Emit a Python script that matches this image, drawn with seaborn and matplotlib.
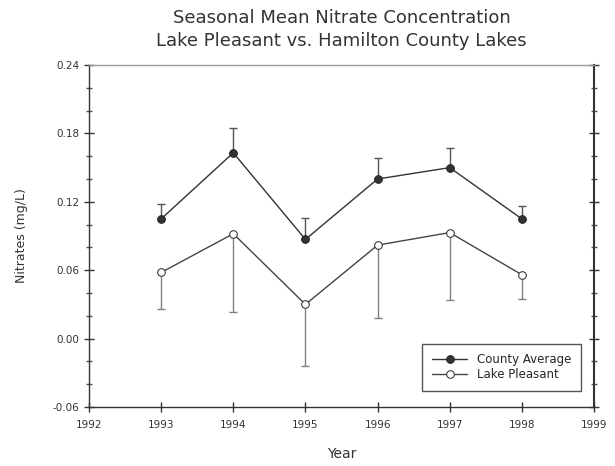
import numpy as np
import pandas as pd
import matplotlib
matplotlib.use("Agg")
import matplotlib.pyplot as plt
import seaborn as sns
from matplotlib.ticker import MultipleLocator

years = [1993, 1994, 1995, 1996, 1997, 1998]
county_mean = [0.105, 0.163, 0.087, 0.140, 0.150, 0.105]
county_upper = [0.118, 0.185, 0.106, 0.158, 0.167, 0.116]
lake_mean = [0.058, 0.092, 0.030, 0.082, 0.093, 0.056]
lake_lower = [0.026, 0.023, -0.024, 0.018, 0.034, 0.035]

sns.set_style("white")
plt.rcParams['font.family'] = ['DejaVu Sans']

df = pd.DataFrame({
    'Year': years * 2,
    'Nitrate': county_mean + lake_mean,
    'Series': ['County Average'] * 6 + ['Lake Pleasant'] * 6,
})

fig = plt.figure(figsize=(6.15, 4.66), dpi=100)
ax = fig.add_axes([0.1447, 0.1266, 0.8212, 0.7339])

# one-sided error bars: county up, lake down
county_err = np.array(county_upper) - np.array(county_mean)
lake_err = np.array(lake_mean) - np.array(lake_lower)
ax.errorbar(years, county_mean, yerr=[np.zeros(6), county_err], fmt='none',
            ecolor='#555555', elinewidth=1, capsize=3, capthick=1, zorder=1)
ax.errorbar(years, lake_mean, yerr=[lake_err, np.zeros(6)], fmt='none',
            ecolor='#808080', elinewidth=1, capsize=3, capthick=1, zorder=1)

sns.lineplot(data=df, x='Year', y='Nitrate', hue='Series', style='Series',
             palette={'County Average': '#333333', 'Lake Pleasant': '#444444'},
             markers={'County Average': 'o', 'Lake Pleasant': 'o'},
             dashes=False, linewidth=1, ax=ax, zorder=3, legend=False)

ax.lines[-2].set_markerfacecolor('#333333')
ax.lines[-2].set_markeredgecolor('#222222')
ax.lines[-2].set_markersize(5.5)
ax.lines[-1].set_markerfacecolor('white')
ax.lines[-1].set_markeredgecolor('#333333')
ax.lines[-1].set_markersize(5.5)

ax.set_xlim(1992, 1999)
ax.set_ylim(-0.06, 0.24)
ax.set_xticks(range(1992, 2000))
ax.set_yticks(np.arange(-0.06, 0.2401, 0.06))
ax.yaxis.set_minor_locator(MultipleLocator(0.02))
ax.set_yticklabels(['-0.06', '0.00', '0.06', '0.12', '0.18', '0.24'])
ax.tick_params(axis='both', which='major', direction='inout', length=7,
               width=1, labelsize=7.5, color='#333333', labelcolor='#333333')
ax.tick_params(axis='y', which='minor', direction='inout', length=5, width=1,
               color='#555555')
ax.tick_params(axis='y', which='both', left=True, right=True)
ax.tick_params(axis='x', which='major', bottom=True, pad=6)

for side in ['left', 'bottom', 'right']:
    ax.spines[side].set_color('#333333')
    ax.spines[side].set_linewidth(1)
ax.spines['right'].set_linewidth(1.5)
ax.spines['top'].set_color('#999999')
ax.spines['top'].set_linewidth(1)

ax.set_xlabel('Year', fontsize=10, color='#333333', labelpad=12)
ax.set_ylabel('Nitrates (mg/L)', fontsize=9, color='#333333', labelpad=18)
ax.set_title('Seasonal Mean Nitrate Concentration\nLake Pleasant vs. Hamilton County Lakes',
             fontsize=13, color='#333333', pad=14, linespacing=1.3)

ax.legend(handles=ax.lines[-2:], labels=['County Average', 'Lake Pleasant'],
          loc='lower right', bbox_to_anchor=(0.985, 0.03), fontsize=8.5,
          frameon=True, fancybox=False, edgecolor='#555555', framealpha=1,
          handlelength=3, borderpad=0.8, labelspacing=0.2)

fig.savefig('out.png', dpi=100)
